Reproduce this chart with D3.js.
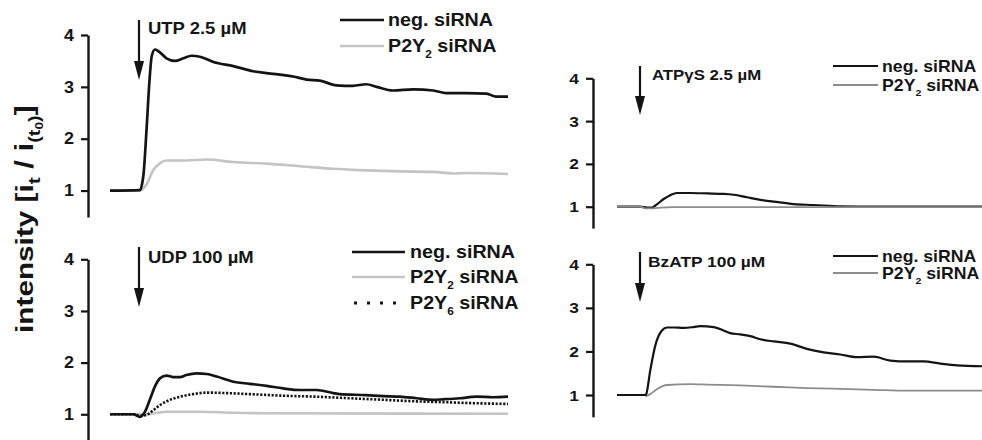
<!DOCTYPE html>
<html><head><meta charset="utf-8">
<script src="https://cdn.jsdelivr.net/npm/d3@7"></script>
<style>
body{margin:0;background:#fff}
svg{display:block}
text{font-family:"Liberation Sans",Arial,sans-serif;font-weight:bold;fill:#151515}
</style>
</head><body>
<svg id="c" width="982" height="440"></svg>
<script>
// ---------------- data (time in arbitrary units 0..100, intensity ratio) ----------------
const yTicks = [1, 2, 3, 4];
const panelLabels = ["UTP 2.5 µM", "ATPγS 2.5 µM", "UDP 100 µM", "BzATP 100 µM"];
const seriesNames = ["neg. siRNA", "P2Y2 siRNA", "P2Y6 siRNA"];

const utpNeg = [[0,1.0],[7.5,1.01],[8.4,1.3],[9.2,2.2],[9.9,3.1],[10.5,3.6],[11.3,3.72],[12.6,3.66],[14.2,3.55],[16.3,3.5],[18.4,3.55],[20.5,3.6],[22.6,3.58],[26,3.48],[31,3.4],[36,3.3],[41,3.25],[46,3.2],[49.4,3.14],[52.7,3.12],[56.9,3.03],[61,3.02],[64.4,3.05],[67,3.0],[71.1,2.93],[76.2,2.95],[81.2,2.93],[84.5,2.88],[89.5,2.88],[94.6,2.87],[97,2.81],[100,2.81]];
const utpP2Y2 = [[0,1.0],[7.5,1.0],[9.2,1.12],[10.9,1.4],[12.6,1.53],[14.2,1.58],[18.4,1.58],[24.3,1.6],[30.9,1.55],[39.3,1.52],[47.7,1.47],[56.1,1.42],[64.4,1.39],[72.8,1.37],[81.2,1.36],[86.2,1.33],[89.5,1.34],[100,1.32]];

const atpNeg = [[0,1.0],[6.4,1.0],[8.2,0.98],[9.6,0.98],[11,1.06],[12.8,1.18],[14.6,1.27],[16.4,1.32],[20.1,1.32],[24.7,1.31],[29.2,1.3],[32,1.28],[35.6,1.22],[39.3,1.16],[42.9,1.12],[48.4,1.06],[53.9,1.04],[61.2,1.01],[70.3,1.0],[100,1.0]];
const atpP2Y2 = [[0,1.0],[6.4,1.0],[7.8,0.96],[10,0.96],[11.9,0.98],[15.5,0.99],[100,0.99]];

const udpNeg = [[0,1.0],[5.9,1.0],[7.5,0.95],[8.8,1.05],[10,1.28],[11.3,1.54],[12.6,1.7],[14.2,1.75],[15.9,1.72],[17.6,1.72],[19.2,1.76],[21.8,1.79],[24.3,1.78],[26.8,1.73],[31,1.63],[35.1,1.59],[39.3,1.55],[43.5,1.5],[47.7,1.47],[51.9,1.47],[56.1,1.41],[57.7,1.39],[64.4,1.37],[68.6,1.35],[72.8,1.34],[77,1.31],[81.2,1.28],[83.7,1.29],[87.9,1.31],[92.1,1.34],[96.2,1.33],[100,1.34]];
const udpP2Y2 = [[0,1.0],[9.2,1.0],[11.7,1.03],[14.2,1.05],[22.6,1.05],[31,1.03],[39.3,1.02],[100,1.01]];
const udpP2Y6 = [[0,1.0],[5.9,1.0],[7.5,0.97],[9.2,0.99],[10.9,1.08],[12.6,1.18],[14.2,1.25],[17.6,1.34],[20.9,1.39],[24.3,1.42],[29.3,1.41],[35.1,1.39],[43.5,1.36],[51.9,1.34],[60.3,1.31],[68.6,1.28],[77,1.25],[85.4,1.23],[93.7,1.21],[100,1.2]];

const bzNeg = [[0,1.0],[7.8,1.0],[8.0,1.02],[9.1,1.56],[10.5,2.14],[12.3,2.48],[13.7,2.55],[15.5,2.55],[18.3,2.54],[21,2.56],[22.8,2.58],[26.5,2.56],[29.2,2.48],[31,2.42],[33.8,2.39],[36.5,2.35],[39.3,2.28],[42.9,2.23],[47.5,2.18],[52,2.06],[56.6,1.98],[61.2,1.93],[65.8,1.87],[70.3,1.88],[74.9,1.79],[79.5,1.77],[84,1.77],[88.6,1.72],[93.2,1.68],[100,1.66]];
const bzP2Y2 = [[0,1.0],[7.8,1.0],[8.0,0.98],[9.1,1.02],[11,1.14],[13.7,1.23],[20.1,1.25],[24.7,1.24],[33.8,1.22],[42.9,1.19],[52,1.16],[61.2,1.14],[70.3,1.12],[79.5,1.1],[100,1.1]];

// ---------------- layout ----------------
const svg = d3.select("#c");
const SX = 1.12; // horizontal stretch of the lettering

function stretchedText(g, x, y, size, anchor) {
  return g.append("text")
    .attr("transform", `translate(${x},${y}) scale(${SX},1)`)
    .attr("font-size", size)
    .attr("text-anchor", anchor || "start");
}
function nameText(g, x, y, size, name) {
  const t = stretchedText(g, x, y, size);
  const m = name.match(/^(P2Y)(\d)(.*)$/);
  if (m) {
    t.append("tspan").text(m[1]);
    t.append("tspan").text(m[2]).attr("font-size", size * 0.6).attr("dy", size * 0.33);
    t.append("tspan").text(m[3]).attr("dy", -size * 0.33);
  } else t.text(name);
  return t;
}

const styles = {
  negL: {stroke: "#141414", width: 2.7},
  p2L: {stroke: "#c4c4c4", width: 2.6},
  p6L: {stroke: "#141414", width: 2.6, dash: "2.2,1.6"},
  negR: {stroke: "#141414", width: 2.2},
  p2R: {stroke: "#8c8c8c", width: 1.8}
};

const panels = [
  {axisX: 88, x: [110, 508], y: [217, 35], yd: [0.49, 4], tick: 16,
   arrow: {x: 139, y1: 20, y2: 80}, label: {x: 148, y: 34, size: 16.5, text: panelLabels[0]},
   legend: {x1: 340, x2: 384, tx: 388, ys: [20, 46], size: 17.6},
   series: [[utpNeg, styles.negL, 0], [utpP2Y2, styles.p2L, 1]], draw: [1, 0]},
  {axisX: 593, x: [617, 982], y: [228.1, 78.3], yd: [0.5, 4], tick: 15.5,
   arrow: {x: 640, y1: 66, y2: 115}, label: {x: 652, y: 80, size: 15, text: panelLabels[1]},
   legend: {x1: 833, x2: 878, tx: 882, ys: [66, 85], size: 15.8},
   series: [[atpNeg, styles.negR, 0], [atpP2Y2, styles.p2R, 1]], draw: [0, 1]},
  {axisX: 88, x: [110, 508], y: [440.1, 259.3], yd: [0.5, 4], tick: 16,
   arrow: {x: 139, y1: 247, y2: 307}, label: {x: 148, y: 263, size: 16.5, text: panelLabels[2]},
   legend: {x1: 352, x2: 405, tx: 410, ys: [252, 277, 303], size: 17.6},
   series: [[udpNeg, styles.negL, 0], [udpP2Y2, styles.p2L, 1], [udpP2Y6, styles.p6L, 2]], draw: [1, 2, 0]},
  {axisX: 593, x: [617, 982], y: [416.8, 264.3], yd: [0.5, 4], tick: 15.5,
   arrow: {x: 640, y1: 252, y2: 302}, label: {x: 648, y: 267, size: 15.5, text: panelLabels[3]},
   legend: {x1: 833, x2: 878, tx: 882, ys: [256, 273], size: 15.8},
   series: [[bzNeg, styles.negR, 0], [bzP2Y2, styles.p2R, 1]], draw: [1, 0]}
];

panels.forEach(p => {
  const g = svg.append("g");
  const x = d3.scaleLinear().domain([0, 100]).range(p.x);
  const y = d3.scaleLinear().domain(p.yd).range(p.y);

  // axis
  const ax = g.append("g").attr("transform", `translate(${p.axisX},0)`)
    .call(d3.axisLeft(y).tickValues(yTicks).tickFormat(d3.format("d")).tickSize(7).tickSizeOuter(0).tickPadding(5));
  ax.select(".domain").attr("stroke", "#141414").attr("stroke-width", 2.4);
  ax.selectAll(".tick line").attr("stroke", "#141414").attr("stroke-width", 2.2);
  ax.selectAll(".tick text").remove();
  yTicks.forEach(v => {
    stretchedText(g, p.axisX - 14, y(v) + p.tick * 0.36, p.tick, "end").text(v);
  });

  // traces
  const line = d3.line().x(d => x(d[0])).y(d => y(d[1])).curve(d3.curveMonotoneX);
  p.draw.forEach(i => {
    const [data, st] = p.series[i];
    g.append("path").datum(data).attr("d", line)
      .attr("fill", "none").attr("stroke", st.stroke).attr("stroke-width", st.width)
      .attr("stroke-linejoin", "round").attr("stroke-dasharray", st.dash || null);
  });

  // stimulus arrow
  const a = p.arrow;
  g.append("line").attr("x1", a.x).attr("x2", a.x).attr("y1", a.y1).attr("y2", a.y2 - 14)
    .attr("stroke", "#141414").attr("stroke-width", 2.2);
  g.append("path").attr("d", `M${a.x - 5},${a.y2 - 19}L${a.x + 5},${a.y2 - 19}L${a.x},${a.y2}Z`).attr("fill", "#141414");
  stretchedText(g, p.label.x, p.label.y, p.label.size).text(p.label.text);

  // legend
  const L = p.legend;
  p.series.forEach(([data, st, ni], k) => {
    const ly = L.ys[k];
    if (st.dash) {
      g.append("line").attr("x1", L.x1 + 2).attr("x2", L.x2).attr("y1", ly).attr("y2", ly)
        .attr("stroke", st.stroke).attr("stroke-width", 3).attr("stroke-dasharray", "3,10");
    } else {
      g.append("line").attr("x1", L.x1).attr("x2", L.x2).attr("y1", ly).attr("y2", ly)
        .attr("stroke", st.stroke).attr("stroke-width", st.width);
    }
    nameText(g, L.tx, ly + L.size * 0.36, L.size, seriesNames[ni]);
  });
});

// y-axis title
const yl = svg.append("text")
  .attr("transform", `translate(33,219) rotate(-90) scale(1.24,1)`)
  .attr("font-size", 24).attr("text-anchor", "middle");
yl.append("tspan").text("intensity [i");
yl.append("tspan").text("t").attr("font-size", 17).attr("dy", 7);
yl.append("tspan").text(" / i").attr("font-size", 25).attr("dy", -7);
yl.append("tspan").text("(t").attr("font-size", 16).attr("dy", 7);
yl.append("tspan").text("0").attr("font-size", 11).attr("dy", 3);
yl.append("tspan").text(")").attr("font-size", 16).attr("dy", -3);
yl.append("tspan").text("]").attr("font-size", 25).attr("dy", -7);
</script>
</body></html>
